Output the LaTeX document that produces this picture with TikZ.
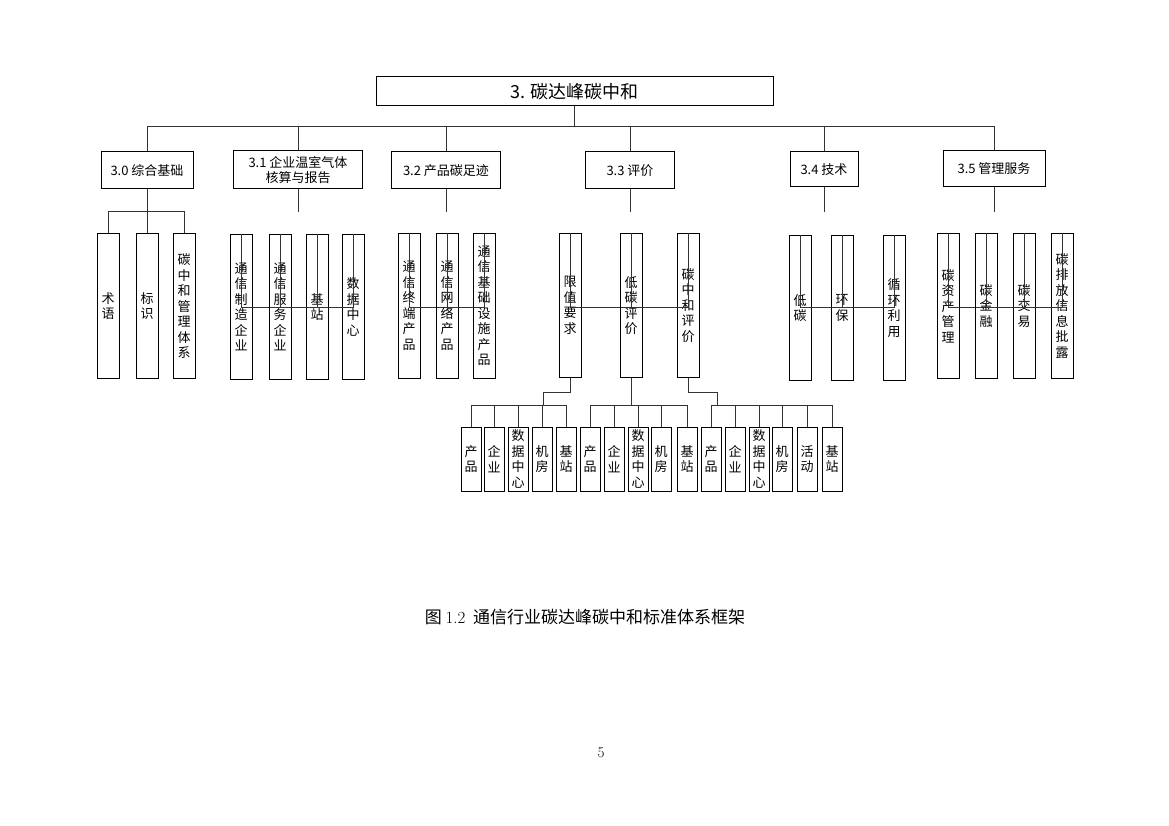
\documentclass[tikz,border=0pt]{standalone}
\usepackage{fontspec}
\newfontfamily\cjk{Noto Sans CJK SC}
\usetikzlibrary{positioning}
\tikzset{
  box/.style={draw, line width=1pt, inner sep=2pt, align=center, font=\cjk\fontsize{13}{15.5}\selectfont},
  leaf/.style={box, minimum width=22pt, minimum height=144pt, text width=14pt},
  twig/.style={box, minimum width=20pt, minimum height=64pt, text width=14pt, inner sep=0pt},
  link/.style={line width=1pt, black!80}
}
\begin{document}
\begin{tikzpicture}[x=1pt,y=-1pt]
    \useasboundingbox (0,0) rectangle (1169,826);
    % top and second level
    \node[box, minimum width=397pt, minimum height=29pt, font=\cjk\fontsize{18}{20}\selectfont] (root) at (574.5,91.5) {3. 碳达峰碳中和};
    \node[box, minimum width=92pt, minimum height=37pt] (c30) at (147,170.5) {3.0 综合基础};
    \node[box, minimum width=129pt, minimum height=38pt, inner sep=1pt] (c31) at (298,170) {3.1 企业温室气体\\核算与报告};
    \node[box, minimum width=109pt, minimum height=37pt] (c32) at (446,170.5) {3.2 产品碳足迹};
    \node[box, minimum width=89pt, minimum height=37pt] (c33) at (630,170.5) {3.3 评价};
    \node[box, minimum width=68pt, minimum height=35pt] (c34) at (824,169.5) {3.4 技术};
    \node[box, minimum width=102pt, minimum height=36pt] (c35) at (994,169) {3.5 管理服务};
    \coordinate (b0) at (0,127);
    \draw[link] (root.south) -- (root.south |- b0);
    \foreach \c in {c30,c31,c32,c33,c34} {
      \draw[link] (\c.north) |- (c35.north |- b0) -- (c35.north);
    }
    % third level
    \coordinate (b1) at (0,212);
    \foreach \c in {c30,c31,c32,c33,c34,c35} {
      \draw[link] (\c.south) -- (\c.south |- b1);
    }
    \foreach \x/\t [count=\i] in {108/{术\\语},147/{标\\识},184/{碳\\中\\和\\管\\理\\体\\系}} {
      \node[leaf] (a\i) at (\x,306) {\t};
      \draw[link] (a\i.north) |- (c30.south |- b1);
    }
    \foreach \x/\t [count=\i] in {241/{通\\信\\制\\造\\企\\业},280/{通\\信\\服\\务\\企\\业},317/{基\\站},353/{数\\据\\中\\心}} {
      \node[leaf] (b\i) at (\x,307) {\t};
      \draw[link] (b\i.north) |- (c31.south |- b1);
    }
    \foreach \x/\t [count=\i] in {409/{通\\信\\终\\端\\产\\品},447/{通\\信\\网\\络\\产\\品},484/{通\\信\\基\\础\\设\\施\\产\\品}} {
      \node[leaf] (p\i) at (\x,306) {\t};
      \draw[link] (p\i.north) |- (c32.south |- b1);
    }
    \foreach \x/\t [count=\i] in {570/{限\\值\\要\\求},631/{低\\碳\\评\\价},688/{碳\\中\\和\\评\\价}} {
      \node[leaf] (d\i) at (\x,305.5) {\t};
      \draw[link] (d\i.north) |- (c33.south |- b1);
    }
    \foreach \x/\t [count=\i] in {800/{低\\碳},842/{环\\保},894/{循\\环\\利\\用}} {
      \node[leaf] (t\i) at (\x,308) {\t};
      \draw[link] (t\i.north) |- (c34.south |- b1);
    }
    \foreach \x/\t [count=\i] in {948/{碳\\资\\产\\管\\理},986/{碳\\金\\融},1024/{碳\\交\\易},1062/{碳\\排\\放\\信\\息\\批\\露}} {
      \node[leaf] (m\i) at (\x,306) {\t};
      \draw[link] (m\i.north) |- (c35.south |- b1);
    }
    % fourth level
    \coordinate (k1) at (543,392);
    \coordinate (g1) at (543,405);
    \coordinate (g2) at (631,405);
    \coordinate (k3) at (717,392);
    \coordinate (g3) at (717,405);
    \draw[link] (d1.south) |- (k1) -- (g1);
    \draw[link] (d2.south) -- (g2);
    \draw[link] (d3.south) |- (k3) -- (g3);
    \foreach \x/\t [count=\i] in {471/{产\\品},494/{企\\业},518/{数\\据\\中\\心},542/{机\\房},566/{基\\站}} {
      \node[twig] (e\i) at (\x,459) {\t};
      \draw[link] (e\i.north) |- (g1);
    }
    \foreach \x/\t [count=\i] in {590/{产\\品},614/{企\\业},638/{数\\据\\中\\心},661/{机\\房},687/{基\\站}} {
      \node[twig] (f\i) at (\x,459) {\t};
      \draw[link] (f\i.north) |- (g2);
    }
    \foreach \x/\t [count=\i] in {711/{产\\品},735/{企\\业},759/{数\\据\\中\\心},782/{机\\房},807/{活\\动},832/{基\\站}} {
      \node[twig] (h\i) at (\x,459) {\t};
      \draw[link] (h\i.north) |- (g3);
    }
    % caption and page number
    \node[font=\cjk\fontsize{17}{20}\selectfont] (cap) at (585,617) {图 {\rmfamily 1.2}\ \ 通信行业碳达峰碳中和标准体系框架};
    \node[font=\fontsize{15}{18}\selectfont] (pg) at (601,753) {5};
\end{tikzpicture}
\end{document}
